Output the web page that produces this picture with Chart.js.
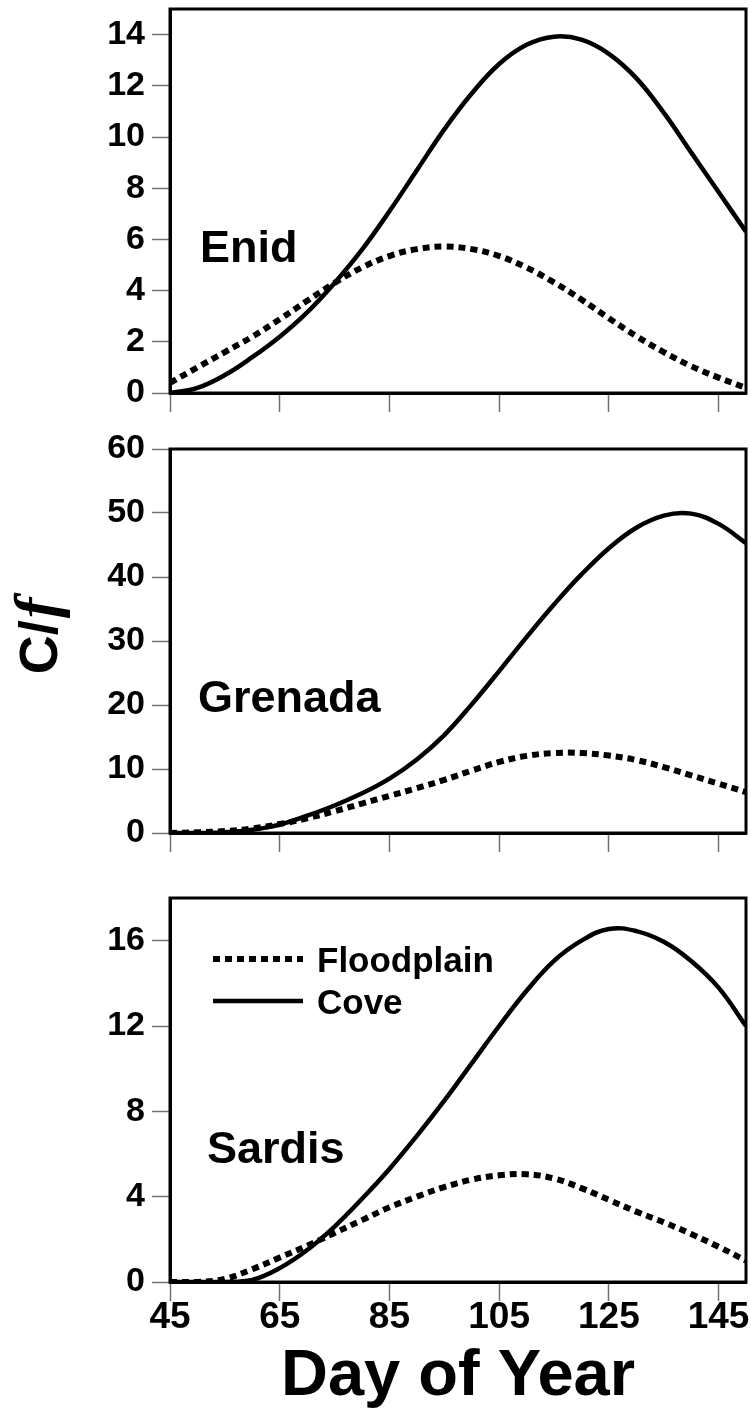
<!DOCTYPE html>
<html>
<head>
<meta charset="utf-8">
<script src="https://cdn.jsdelivr.net/npm/chart.js@4.4.1/dist/chart.umd.min.js"></script>
<style>
    body { margin: 0; background: #fff; }
    #wrap { position: relative; width: 751px; height: 1414px; }
    canvas { position: absolute; left: 0; }
</style>
</head>
<body>
<div id="wrap">
    <canvas id="enid" width="751" height="420" style="top:0px"></canvas>
    <canvas id="grenada" width="751" height="435" style="top:420px"></canvas>
    <canvas id="sardis" width="751" height="559" style="top:855px"></canvas>
</div>
<script>
// day of year, sampled every 5 days
var days = [45, 50, 55, 60, 65, 70, 75, 80, 85, 90, 95, 100, 105, 110, 115, 120, 125, 130, 135, 140, 145, 150];

var enidFloodplain = [0.4, 1.0, 1.6, 2.2, 2.88, 3.6, 4.3, 4.9, 5.35, 5.62, 5.72, 5.62, 5.35, 4.9, 4.32, 3.65, 2.92, 2.22, 1.6, 1.05, 0.6, 0.2];
var enidCove = [0, 0.2, 0.7, 1.4, 2.2, 3.15, 4.3, 5.6, 7.1, 8.7, 10.3, 11.7, 12.85, 13.6, 13.92, 13.8, 13.25, 12.3, 10.95, 9.4, 7.85, 6.3];

var grenadaFloodplain = [0, 0.1, 0.3, 0.7, 1.4, 2.3, 3.4, 4.6, 5.8, 7.0, 8.3, 9.75, 11.1, 12.05, 12.5, 12.5, 12.1, 11.4, 10.3, 9.0, 7.7, 6.4];
var grenadaCove = [0, 0, 0.1, 0.5, 1.3, 2.7, 4.3, 6.2, 8.5, 11.5, 15.3, 20.1, 25.3, 30.6, 35.7, 40.4, 44.5, 47.7, 49.6, 49.9, 48.3, 45.3];

var sardisFloodplain = [0, 0, 0.15, 0.6, 1.15, 1.7, 2.3, 2.9, 3.5, 4.0, 4.45, 4.8, 5.0, 5.05, 4.85, 4.4, 3.85, 3.3, 2.8, 2.25, 1.65, 1.0];
var sardisCove = [0, 0, 0, 0.1, 0.65, 1.5, 2.6, 3.9, 5.3, 6.85, 8.5, 10.25, 12.0, 13.65, 15.05, 16.0, 16.55, 16.45, 15.95, 15.05, 13.8, 12.0];

var xTicks = [45, 65, 85, 105, 125, 145];
var enidTicks = [0, 2, 4, 6, 8, 10, 12, 14];
var grenadaTicks = [0, 10, 20, 30, 40, 50, 60];
var sardisTicks = [0, 4, 8, 12, 16];

var FONT = "'Liberation Sans', Arial, Helvetica, sans-serif";

function toPoints(values) {
    return days.map(function (d, i) { return { x: d, y: values[i] }; });
}

// box, site name, legend and y title
var decorPlugin = {
    id: 'decor',
    afterDraw: function (chart) {
        var o = chart.config.options.decor;
        var ctx = chart.ctx;
        var a = chart.chartArea;
        ctx.save();
        ctx.strokeStyle = '#000';
        ctx.lineWidth = 3;
        ctx.strokeRect(a.left, a.top, a.right - a.left, a.bottom - a.top);

        ctx.fillStyle = '#000';
        ctx.textAlign = 'left';
        ctx.textBaseline = 'alphabetic';
        ctx.font = 'bold 45px ' + FONT;
        ctx.fillText(o.name, a.left + o.nameDx, a.top + o.nameDy);

        if (o.legend) {
            var ds = chart.data.datasets;
            var rows = [a.top + 61, a.top + 103];
            ds.forEach(function (d, i) {
                ctx.lineWidth = d.borderWidth;
                ctx.setLineDash(d.borderDash || []);
                ctx.beginPath();
                ctx.moveTo(a.left + 43, rows[i]);
                ctx.lineTo(a.left + 133, rows[i]);
                ctx.stroke();
                ctx.setLineDash([]);
                ctx.font = 'bold 35px ' + FONT;
                ctx.fillText(d.label, a.left + 147, rows[i] + 13);
            });
        }

        if (o.yTitle) {
            ctx.translate(57, 217);
            ctx.rotate(-Math.PI / 2);
            ctx.font = 'bold 54px ' + FONT;
            var w1 = ctx.measureText('C/').width;
            var fFont = 'italic bold 62px "Liberation Serif", "Times New Roman", serif';
            ctx.font = fFont;
            var w2 = ctx.measureText('f').width;
            var start = -(w1 + w2) / 2;
            ctx.font = 'bold 54px ' + FONT;
            ctx.fillText('C/', start, 0);
            ctx.font = fFont;
            ctx.fillText('f', start + w1 + 2, 0);
        }
        ctx.restore();
    }
};

function makePanel(id, o) {
    return new Chart(document.getElementById(id), {
        type: 'line',
        data: {
            datasets: [{
                label: 'Floodplain',
                data: toPoints(o.floodplain),
                borderColor: '#000',
                borderWidth: 6,
                borderDash: [7, 5],
                pointRadius: 0,
                tension: 0.4,
                fill: false
            }, {
                label: 'Cove',
                data: toPoints(o.cove),
                borderColor: '#000',
                borderWidth: 4.5,
                pointRadius: 0,
                tension: 0.4,
                fill: false
            }]
        },
        options: {
            responsive: false,
            animation: false,
            events: [],
            layout: { padding: { top: o.padTop, right: 5, left: 0, bottom: 0 } },
            decor: o,
            plugins: {
                legend: { display: false },
                tooltip: { enabled: false }
            },
            scales: {
                x: {
                    type: 'linear',
                    min: 45,
                    max: 150,
                    afterBuildTicks: function (s) {
                        s.ticks = xTicks.map(function (v) { return { value: v }; });
                    },
                    afterFit: function (s) {
                        s.height = o.xHeight;
                        s.paddingLeft = 0;
                        s.paddingRight = 0;
                    },
                    grid: { drawOnChartArea: false, tickLength: 19, tickColor: '#707070', tickWidth: 1.5 },
                    border: { display: true, color: '#000', width: 3 },
                    ticks: {
                        display: o.xLabels,
                        autoSkip: false,
                        maxRotation: 0,
                        padding: 0,
                        color: '#000',
                        font: { family: FONT, weight: 'bold', size: 37, lineHeight: 0.9 }
                    },
                    title: {
                        display: o.xLabels,
                        text: 'Day of Year',
                        color: '#000',
                        padding: { top: 0, bottom: 4 },
                        font: { family: FONT, weight: 'bold', size: 65, lineHeight: 1 }
                    }
                },
                y: {
                    min: 0,
                    max: o.yMax,
                    afterBuildTicks: function (s) {
                        s.ticks = o.yTicks.map(function (v) { return { value: v }; });
                    },
                    afterFit: function (s) {
                        s.width = 170;
                        s.paddingTop = 0;
                        s.paddingBottom = 0;
                    },
                    grid: { drawOnChartArea: false, tickLength: 18, tickColor: '#707070', tickWidth: 1.5 },
                    border: { display: true, color: '#000', width: 3 },
                    ticks: {
                        padding: 7,
                        color: '#000',
                        font: { family: FONT, weight: 'bold', size: 34 }
                    }
                }
            }
        },
        plugins: [decorPlugin]
    });
}

makePanel('enid', {
    floodplain: enidFloodplain, cove: enidCove,
    yMax: 15, yTicks: enidTicks,
    padTop: 9, xHeight: 27, xLabels: false,
    name: 'Enid', nameDx: 30, nameDy: 253
});

makePanel('grenada', {
    floodplain: grenadaFloodplain, cove: grenadaCove,
    yMax: 60, yTicks: grenadaTicks,
    padTop: 29, xHeight: 22, xLabels: false,
    name: 'Grenada', nameDx: 28, nameDy: 263,
    yTitle: true
});

makePanel('sardis', {
    floodplain: sardisFloodplain, cove: sardisCove,
    yMax: 18, yTicks: sardisTicks,
    padTop: 43, xHeight: 132, xLabels: true,
    name: 'Sardis', nameDx: 37, nameDy: 265,
    legend: true
});
</script>
</body>
</html>
